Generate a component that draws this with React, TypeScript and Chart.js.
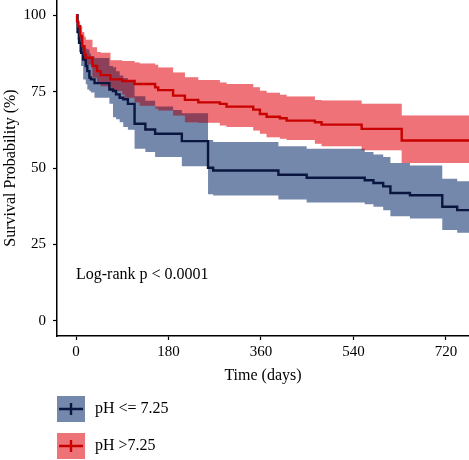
import React, { useEffect, useRef } from "react";
import { Chart, registerables } from "chart.js";

Chart.register(...registerables);

// ---- data ----
const xTicks = [0, 180, 360, 540, 720];
const yTicks = [0, 25, 50, 75, 100];

const lowDays = [0, 3, 6, 10, 14, 19, 22, 26, 29, 36, 65, 72, 78, 85, 92, 101, 114, 135, 154, 189, 206, 257, 267, 394, 449, 562, 579, 598, 612, 650, 713, 742, 765];
const lowSurv = [100, 94.5, 91, 87.7, 85.5, 83.4, 81.7, 79.6, 79.0, 77.8, 75.7, 75.2, 74.1, 73.0, 72.5, 71.0, 64.5, 62.6, 61.2, 61.2, 58.8, 50.1, 49.2, 47.8, 46.8, 46.0, 45.1, 44.0, 41.8, 41.1, 37.3, 36.2, 36.2];
const lowUpper = [100, 97, 94, 91.5, 90, 89, 88.8, 87.5, 86.6, 86, 83.4, 83, 81.7, 80.3, 79.5, 78.6, 73.5, 72.0, 70.1, 69.0, 67.9, 59.2, 58.5, 57.1, 56.3, 55.2, 54.4, 53.6, 51.6, 50.8, 46.5, 45.7, 45.7];
const lowLower = [100, 92, 88, 83.4, 79, 77.4, 75.7, 75.2, 74.7, 73.0, 71.0, 66.6, 66.0, 65.0, 63.4, 62.5, 56.3, 55.2, 53.6, 53.6, 50.6, 41.4, 41.0, 39.7, 38.7, 38.1, 37.3, 36.2, 34.2, 33.5, 29.7, 28.8, 28.8];

const highDays = [0, 2, 4, 8, 12, 16, 19, 32, 41, 48, 67, 90, 95, 114, 124, 154, 160, 189, 212, 238, 280, 293, 345, 358, 371, 397, 410, 465, 478, 556, 634, 765];
const highSurv = [100, 98, 96.4, 93.2, 89.9, 87.2, 86.1, 83.4, 81.7, 80.4, 79.0, 78.5, 78.5, 77.5, 77.5, 76.4, 75.5, 73.7, 72.3, 71.5, 71.0, 70.1, 69.1, 67.7, 66.8, 66.3, 65.5, 65.0, 64.2, 62.8, 59.0, 59.0];
const highUpper = [100, 99.5, 98, 96.4, 94.5, 93, 92, 89.5, 88, 87.7, 85.3, 85.0, 85.0, 84.5, 84.2, 83.8, 82.9, 81.3, 79.7, 78.8, 78.0, 77.5, 76.4, 75.3, 74.6, 74.0, 73.4, 72.3, 72.1, 71.0, 67.2, 67.2];
const highLower = [100, 96, 94, 89.9, 86.6, 84.8, 83.9, 79.6, 77.9, 76.8, 75.2, 74.1, 73.0, 71.5, 70.4, 69.5, 68.8, 67.2, 65.0, 64.8, 63.9, 63.4, 62.3, 61.2, 60.1, 59.6, 59.2, 57.9, 57.1, 55.8, 51.6, 51.6];

const legendLabels = ["pH <= 7.25", "pH >7.25"];
const pValueText = "Log-rank p < 0.0001";

// ---- styles ----
const FONT = "'Liberation Serif', 'Times New Roman', serif";
const NAVY = "#0b1640";
const RED = "#c80000";
const BLUE_BAND = "rgb(116,136,171)";
const RED_BAND = "rgb(238,115,120)";
const RED_MULT = "rgb(255,154,131)";
const RED_OVER = "rgba(198,23,93,0.3)";

const pts = (xs: number[], ys: number[]) => xs.map((x, i) => ({ x, y: ys[i] }));

const BLUE_UPPER_IDX = 5;
const RED_MULT_IDX = 4;

const blendPlugin = {
  id: "blendBands",
  afterDatasetDraw(chart: any, args: any) {
    if (args.index === BLUE_UPPER_IDX) chart.ctx.globalCompositeOperation = "multiply";
  },
  beforeDatasetDraw(chart: any, args: any) {
    if (args.index === RED_MULT_IDX) chart.ctx.globalCompositeOperation = "source-over";
  },
};

const annotPlugin = {
  id: "annot",
  afterDraw(chart: any) {
    const ctx = chart.ctx;
    const xs = chart.scales.x;
    const ys = chart.scales.y;
    ctx.save();
    ctx.globalCompositeOperation = "source-over";
    ctx.fillStyle = "#000";
    ctx.font = `16px ${FONT}`;
    ctx.textAlign = "left";
    ctx.textBaseline = "alphabetic";
    ctx.fillText(pValueText, xs.getPixelForValue(0), ys.getPixelForValue(13.5));

    // legend
    const items = [
      { fill: BLUE_BAND, line: NAVY, label: legendLabels[0], top: 396 },
      { fill: RED_BAND, line: RED, label: legendLabels[1], top: 433 },
    ];
    const left = xs.left;
    items.forEach((it) => {
      const cy = it.top + 13;
      ctx.fillStyle = it.fill;
      ctx.fillRect(left, it.top, 28, 26);
      ctx.strokeStyle = it.line;
      ctx.lineWidth = 2.4;
      ctx.beginPath();
      ctx.moveTo(left + 2, cy);
      ctx.lineTo(left + 26, cy);
      ctx.moveTo(left + 14, cy - 6);
      ctx.lineTo(left + 14, cy + 6);
      ctx.stroke();
      ctx.fillStyle = "#000";
      ctx.textBaseline = "middle";
      ctx.fillText(it.label, left + 38, cy);
    });
    ctx.restore();
  },
};

export default function App() {
  const ref = useRef<HTMLCanvasElement>(null);
  useEffect(() => {
    if (!ref.current) return;
    const common = { pointRadius: 0, pointHoverRadius: 0, stepped: "before" as const, tension: 0 };
    const chart = new Chart(ref.current, {
      type: "line",
      data: {
        datasets: [
          { ...common, label: "high", data: pts(highDays, highSurv), borderColor: RED, borderWidth: 2.4, fill: false },
          { ...common, label: "low", data: pts(lowDays, lowSurv), borderColor: NAVY, borderWidth: 2.4, fill: false },
          { ...common, label: "hiU2", data: pts(highDays, highUpper), borderWidth: 0, borderColor: "transparent", backgroundColor: RED_OVER, fill: "+1" },
          { ...common, label: "hiL", data: pts(highDays, highLower), borderWidth: 0, borderColor: "transparent", fill: false },
          { ...common, label: "hiU1", data: pts(highDays, highUpper), borderWidth: 0, borderColor: "transparent", backgroundColor: RED_MULT, fill: "-1" },
          { ...common, label: "loU", data: pts(lowDays, lowUpper), borderWidth: 0, borderColor: "transparent", backgroundColor: BLUE_BAND, fill: "+1" },
          { ...common, label: "loL", data: pts(lowDays, lowLower), borderWidth: 0, borderColor: "transparent", fill: false },
        ],
      },
      options: {
        responsive: false,
        animation: false,
        devicePixelRatio: 1,
        layout: { padding: { left: 0, right: 0, top: 0, bottom: 74 } },
        plugins: { legend: { display: false }, tooltip: { enabled: false } },
        events: [],
        scales: {
          x: {
            type: "linear",
            min: -37,
            max: 765,
            afterBuildTicks: (s: any) => { s.ticks = xTicks.map((v) => ({ value: v })); },
            afterFit: (s: any) => { s.height = 50; s.paddingLeft = 0; s.paddingRight = 0; },
            ticks: { font: { family: FONT, size: 15 }, color: "#000", padding: 3, maxRotation: 0, autoSkip: false },
            grid: { drawOnChartArea: false, drawTicks: true, tickLength: 4, tickColor: "#000", tickWidth: 1.2 },
            border: { display: true, color: "#000", width: 1.5 },
            title: { display: true, text: "Time (days)", font: { family: FONT, size: 16 }, color: "#000", padding: { top: 0, bottom: 0.8 } },
          },
          y: {
            type: "linear",
            min: -5,
            max: 105,
            afterBuildTicks: (s: any) => { s.ticks = yTicks.map((v) => ({ value: v })); },
            afterFit: (s: any) => { s.width = 57; s.paddingTop = 0; s.paddingBottom = 0; },
            ticks: { font: { family: FONT, size: 15 }, color: "#000", padding: 7 },
            grid: { drawOnChartArea: false, drawTicks: true, tickLength: 4, tickColor: "#000", tickWidth: 1.2 },
            border: { display: true, color: "#000", width: 1.5 },
            title: { display: true, text: "Survival Probability (%)", font: { family: FONT, size: 16 }, color: "#000", padding: { top: 1, bottom: 0 } },
          },
        },
      },
      plugins: [blendPlugin, annotPlugin],
    } as any);
    return () => chart.destroy();
  }, []);
  return (
    <div style={{ position: "absolute", left: 0, top: 0, width: 469, height: 460, background: "#fff" }}>
      <canvas ref={ref} width={469} height={460} style={{ width: 469, height: 460, display: "block" }} />
    </div>
  );
}
